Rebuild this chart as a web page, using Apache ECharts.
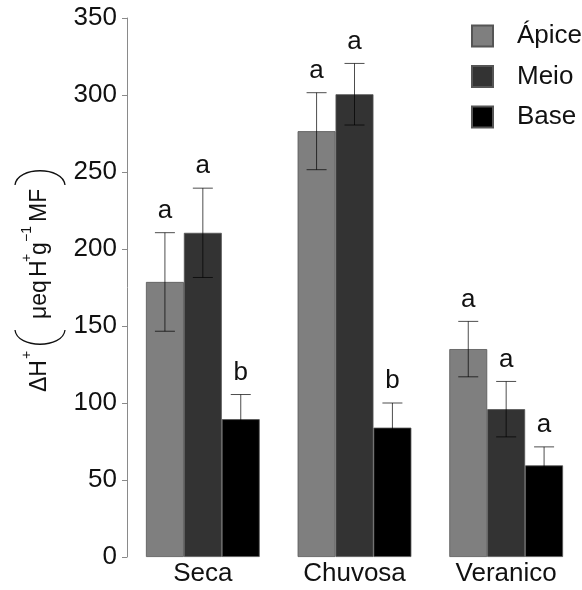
<!DOCTYPE html>
<html>
<head>
<meta charset="utf-8">
<script src="https://cdn.jsdelivr.net/npm/echarts@6/dist/echarts.min.js"></script>
<style>
  html, body { margin: 0; padding: 0; background: #fff; }
  #chart { width: 582px; height: 590px; }
</style>
</head>
<body>
<div id="chart"></div>
<script>
// Seasons on the x axis
const categories = ['Seca', 'Chuvosa', 'Veranico'];
const seriesNames = ['Ápice', 'Meio', 'Base'];

// Mean ΔH+ per leaf section and its error (µeq H+ g-1 MF)
const apice = [178.6, 276.5, 135];
const apiceErr = [32, 25, 18];
const meio = [210.5, 300.5, 96];
const meioErr = [29, 20, 18];
const base = [89.5, 84, 59.5];
const baseErr = [16, 16, 12];

// Significance letters above each bar
const apiceLetters = ['a', 'a', 'a'];
const meioLetters = ['a', 'a', 'a'];
const baseLetters = ['b', 'b', 'a'];

// Y axis ticks
const yMin = 0, yMax = 350, yStep = 50;

const colors = ['#7f7f7f', '#333333', '#000000'];
const FONT = 'Liberation Sans, Arial, sans-serif';
const LABEL_SIZE = 26;

const values = [apice, meio, base];
const errors = [apiceErr, meioErr, baseErr];
const letters = [apiceLetters, meioLetters, baseLetters];

const chart = echarts.init(document.getElementById('chart'), null, { renderer: 'canvas' });

const barSeries = seriesNames.map((name, k) => ({
  name: name,
  type: 'bar',
  data: values[k],
  barGap: '0%',
  barCategoryGap: '25%',
  itemStyle: { color: colors[k], borderColor: '#555', borderWidth: 0.8 },
  z: 2
}));

// Error bars and letters, one custom series per bar series
const errSeries = seriesNames.map((name, k) => ({
  type: 'custom',
  name: name + '-err',
  z: 5,
  data: values[k].map((v, i) => [i, v, errors[k][i]]),
  encode: { x: 0, y: 1 },
  renderItem: function (params, api) {
    const i = api.value(0), v = api.value(1), e = api.value(2);
    const band = api.size([1, 0])[0];
    const barW = band * 0.75 / 3;
    const top = api.coord([i, v + e]);
    const bot = api.coord([i, v - e]);
    const x = top[0] + (k - 1) * barW;
    const cap = 10;
    const ls = { stroke: '#000', lineWidth: 0.7, opacity: 1 };
    return {
      type: 'group',
      children: [
        { type: 'line', shape: { x1: x, y1: top[1], x2: x, y2: bot[1] }, style: ls },
        { type: 'line', shape: { x1: x - cap, y1: top[1], x2: x + cap, y2: top[1] }, style: ls },
        { type: 'line', shape: { x1: x - cap, y1: bot[1], x2: x + cap, y2: bot[1] }, style: ls },
        { type: 'text', style: {
            text: letters[k][params.dataIndex], x: x, y: top[1] - 9,
            align: 'center', verticalAlign: 'bottom',
            font: LABEL_SIZE + 'px ' + FONT, fill: '#111' } }
      ]
    };
  }
}));

// Rotated y-axis title: ΔH+ (µeq H+ g-1 MF)
const tf = (size) => size + 'px ' + FONT;
const T = 23, S = 14;
const titleParts = [
  { type: 'text', style: { text: 'ΔH', x: 0, y: 0, font: tf(T), fill: '#111', align: 'left', verticalAlign: 'middle' } },
  { type: 'text', style: { text: '+', x: 33, y: -13, font: tf(S), fill: '#111', align: 'left', verticalAlign: 'middle' } },
  { type: 'bezierCurve', shape: { x1: 62, y1: -25, cpx1: 43, cpy1: -23, cpx2: 43, cpy2: 23, x2: 62, y2: 25 },
    style: { stroke: '#111', lineWidth: 1.3, fill: null } },
  { type: 'text', style: { text: 'μeq', x: 73, y: 0, font: tf(T), fill: '#111', align: 'left', verticalAlign: 'middle' } },
  { type: 'text', style: { text: 'H', x: 115, y: 0, font: tf(T), fill: '#111', align: 'left', verticalAlign: 'middle' } },
  { type: 'text', style: { text: '+', x: 130, y: -13, font: tf(S), fill: '#111', align: 'left', verticalAlign: 'middle' } },
  { type: 'text', style: { text: 'g', x: 137, y: 0, font: tf(T), fill: '#111', align: 'left', verticalAlign: 'middle' } },
  { type: 'text', style: { text: '−1', x: 150, y: -13, font: tf(S), fill: '#111', align: 'left', verticalAlign: 'middle' } },
  { type: 'text', style: { text: 'MF', x: 170, y: 0, font: tf(T), fill: '#111', align: 'left', verticalAlign: 'middle' } },
  { type: 'bezierCurve', shape: { x1: 207, y1: -25, cpx1: 226, cpy1: -23, cpx2: 226, cpy2: 23, x2: 207, y2: 25 },
    style: { stroke: '#111', lineWidth: 1.3, fill: null } }
];

const option = {
  animation: false,
  backgroundColor: '#fff',
  grid: { left: 127, top: 18, width: 468, bottom: 33, containLabel: false },
  legend: {
    data: seriesNames,
    orient: 'vertical',
    left: 466,
    top: 18,
    itemWidth: 21,
    itemHeight: 21,
    itemGap: 14.5,
    icon: 'rect',
    textStyle: { fontFamily: FONT, fontSize: LABEL_SIZE, color: '#111', padding: [0, 0, 0, 19] }
  },
  xAxis: {
    type: 'category',
    data: categories,
    axisLine: { show: false },
    axisTick: { show: false },
    axisLabel: { fontFamily: FONT, fontSize: LABEL_SIZE, color: '#111', margin: 4 }
  },
  yAxis: {
    type: 'value',
    min: yMin,
    max: yMax,
    interval: yStep,
    axisLine: { show: true, lineStyle: { color: '#8a8a8a', width: 1 } },
    axisTick: { show: true, length: 5, lineStyle: { color: '#8a8a8a', width: 1 } },
    axisLabel: { fontFamily: FONT, fontSize: LABEL_SIZE, color: '#111', margin: 10 },
    splitLine: { show: false }
  },
  graphic: [{
    type: 'group',
    x: 40,
    y: 392,
    rotation: Math.PI / 2,
    children: titleParts
  }],
  series: barSeries.concat(errSeries)
};

chart.setOption(option);
</script>
</body>
</html>
